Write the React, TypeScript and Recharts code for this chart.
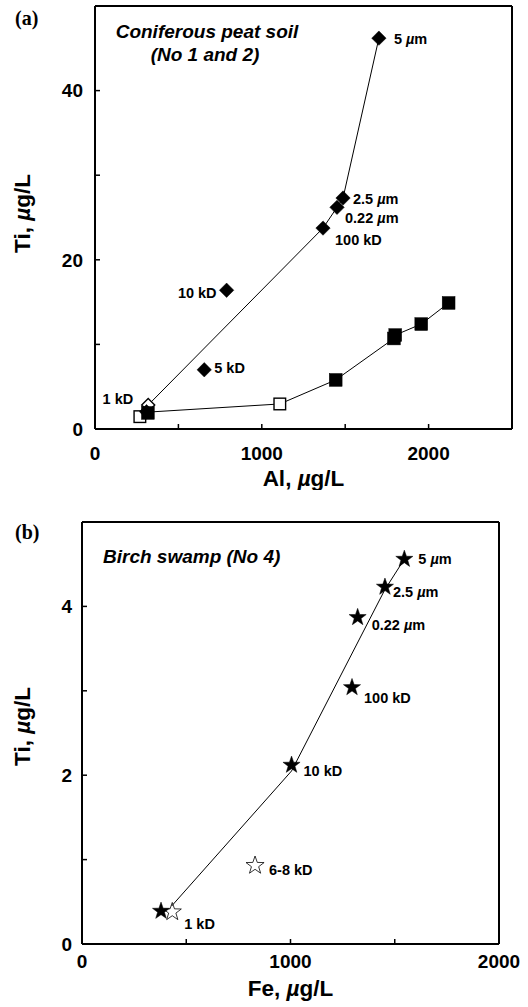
import React from "react";
import { ScatterChart, Scatter, XAxis, YAxis, Label } from "recharts";

// (a) Coniferous peat soil: Ti vs Al
const alFilledDiamond = [1702, 1487, 1451, 1367, 789, 655, 309];
const tiFilledDiamond = [46.2, 27.3, 26.2, 23.75, 16.4, 7.0, 2.05];
const filledDiamondLabels = ["5 µm", "2.5 µm", "0.22 µm", "100 kD", "10 kD", "5 kD", ""];
const alOpenDiamond = [319];
const tiOpenDiamond = [2.84];
const openDiamondLabels = ["1 kD"];
const alDiamondLine = [319, 1367, 1451, 1487, 1702];
const tiDiamondLine = [2.84, 23.75, 26.2, 27.3, 46.2];

const alFilledSquare = [317, 1443, 1792, 1800, 1956, 2120];
const tiFilledSquare = [1.9, 5.8, 10.7, 11.1, 12.4, 14.9];
const alOpenSquare = [269, 1108];
const tiOpenSquare = [1.46, 2.96];
const alSquareLine = [320, 1108, 1443, 1792, 1800, 1956, 2120];
const tiSquareLine = [2.0, 2.96, 5.8, 10.7, 11.1, 12.4, 14.9];

const alTicks = [0, 500, 1000, 1500, 2000, 2500];
const tiTicksA = [0, 10, 20, 30, 40, 50];

// (b) Birch swamp: Ti vs Fe
const feFilledStar = [1546, 1453, 1322, 1295, 1005, 379];
const tiFilledStar = [4.56, 4.23, 3.87, 3.04, 2.12, 0.39];
const filledStarLabels = ["5 µm", "2.5 µm", "0.22 µm", "100 kD", "10 kD", ""];
const feOpenStar = [830, 433];
const tiOpenStar = [0.93, 0.38];
const openStarLabels = ["6-8 kD", "1 kD"];
const feStarLine = [430, 1005, 1453, 1546];
const tiStarLine = [0.45, 2.05, 4.2, 4.56];

const feTicks = [0, 500, 1000, 1500, 2000];
const tiTicksB = [0, 1, 2, 3, 4, 5];

const topTicks = [0, 1, 2, 3, 4, 5, 6];

const FONT = "'Liberation Sans', Arial, Helvetica, sans-serif";

type LabelPos = Record<string, [number, number, ("start" | "end")?]>;

// label offsets from the marker centre
const labelPosA: LabelPos = {
  "5 µm": [15, 6],
  "2.5 µm": [10, 6],
  "0.22 µm": [8, 16],
  "100 kD": [12, 17],
  "10 kD": [-10, 8, "end"],
  "5 kD": [10, 3],
  "1 kD": [-15, -1, "end"],
};
const labelPosB: LabelPos = {
  "5 µm": [14, 5],
  "2.5 µm": [8, 10],
  "0.22 µm": [14, 13],
  "100 kD": [12, 16],
  "10 kD": [12, 11],
  "6-8 kD": [14, 9],
  "1 kD": [12, 17],
};

const zip = (xs: number[], ys: number[], labels?: string[]) =>
  xs.map((x, i) => ({ x, y: ys[i], label: labels ? labels[i] : "" }));

function MuText({ text }: { text: string }) {
  const parts = text.split("µ");
  if (parts.length < 2) return <>{text}</>;
  return (
    <>
      {parts[0]}
      <tspan fontStyle="italic">µ</tspan>
      {parts[1]}
    </>
  );
}

function PointLabel({ cx, cy, text, pos }: { cx: number; cy: number; text?: string; pos: LabelPos }) {
  if (!text || !pos[text]) return null;
  const [dx, dy, anchor] = pos[text];
  return (
    <text
      x={cx + dx}
      y={cy + dy}
      textAnchor={anchor ?? "start"}
      fontFamily={FONT}
      fontWeight="bold"
      fontSize={14.5}
      fill="#000"
    >
      <MuText text={text} />
    </text>
  );
}

const diamondShape = (open: boolean, pos: LabelPos) => (p: any) => {
  const { cx, cy, payload } = p;
  const r = open ? 6.5 : 7.2;
  return (
    <g>
      <path
        d={`M${cx},${cy - r}L${cx + r},${cy}L${cx},${cy + r}L${cx - r},${cy}Z`}
        fill={open ? "#fff" : "#000"}
        stroke="#000"
        strokeWidth={open ? 1.4 : 0.5}
      />
      <PointLabel cx={cx} cy={cy} text={payload?.label} pos={pos} />
    </g>
  );
};

const squareShape = (open: boolean) => (p: any) => {
  const { cx, cy } = p;
  const h = open ? 5.8 : 6.4;
  return (
    <rect
      x={cx - h}
      y={cy - h}
      width={h * 2}
      height={h * 2}
      fill={open ? "#fff" : "#000"}
      stroke="#000"
      strokeWidth={open ? 1.4 : 0.5}
    />
  );
};

const starPath = (cx: number, cy: number, R: number) => {
  const r = R * 0.4;
  let d = "";
  for (let i = 0; i < 10; i++) {
    const a = -Math.PI / 2 + (i * Math.PI) / 5;
    const rad = i % 2 === 0 ? R : r;
    d += `${i === 0 ? "M" : "L"}${cx + rad * Math.cos(a)},${cy + rad * Math.sin(a)}`;
  }
  return d + "Z";
};

const starShape = (open: boolean, pos: LabelPos) => (p: any) => {
  const { cx, cy, payload } = p;
  return (
    <g>
      <path
        d={starPath(cx, cy, open ? 9.5 : 9)}
        fill={open ? "none" : "#000"}
        stroke="#000"
        strokeWidth={open ? 0.8 : 0.5}
      />
      <PointLabel cx={cx} cy={cy} text={payload?.label} pos={pos} />
    </g>
  );
};

const noShape = () => <g />;

const tickStyle = { fontSize: 19, fontWeight: 700, fill: "#000", fontFamily: FONT };
const frame = { stroke: "#000", strokeWidth: 2 };
const tickLine = { stroke: "#000", strokeWidth: 1.5 };
const lineStyle = { stroke: "#000", strokeWidth: 1 };

function XTitle({ viewBox, name, dy }: any) {
  const { x, y, width } = viewBox;
  return (
    <text x={x + width / 2} y={y + dy} textAnchor="middle" fontFamily={FONT} fontWeight="bold" fontSize={22.5} fill="#000">
      {name}, <tspan fontStyle="italic">µ</tspan>g/L
    </text>
  );
}

function YTitle({ viewBox, shift }: any) {
  const { y, height } = viewBox;
  const cx = 30;
  const cy = y + height / 2 + shift;
  return (
    <text
      x={cx}
      y={cy}
      transform={`rotate(-90, ${cx}, ${cy})`}
      textAnchor="middle"
      fontFamily={FONT}
      fontWeight="bold"
      fontSize={22.5}
      fill="#000"
    >
      Ti, <tspan fontStyle="italic">µ</tspan>g/L
    </text>
  );
}

const thousands = (v: number) => (v % 1000 === 0 ? String(v) : "");
const evens = (v: number) => (v % 20 === 0 ? String(v) : "");
const evenInts = (v: number) => (v % 2 === 0 ? String(v) : "");

function PanelA() {
  return (
    <ScatterChart width={528} height={490} margin={{ top: 0, right: 0, bottom: 0, left: 0 }}>
      <XAxis
        type="number"
        dataKey="x"
        domain={[0, 2500]}
        ticks={alTicks}
        interval={0}
        tickFormatter={thousands}
        tick={tickStyle}
        tickSize={-5}
        tickMargin={23}
        axisLine={frame}
        tickLine={tickLine}
        height={61}
        allowDataOverflow
      >
        <Label content={(p: any) => <XTitle viewBox={p.viewBox} name="Al" dy={57} />} />
      </XAxis>
      <XAxis
        xAxisId="top"
        orientation="top"
        type="number"
        domain={[0, 6]}
        ticks={topTicks}
        interval={0}
        tick={false}
        tickSize={-5}
        axisLine={frame}
        tickLine={tickLine}
        height={6}
      />
      <YAxis
        type="number"
        dataKey="y"
        domain={[0, 50]}
        ticks={tiTicksA}
        interval={0}
        tickFormatter={evens}
        tick={tickStyle}
        tickSize={-5}
        tickMargin={17}
        axisLine={frame}
        tickLine={tickLine}
        width={95}
        allowDataOverflow
      >
        <Label content={(p: any) => <YTitle viewBox={p.viewBox} shift={-4} />} />
      </YAxis>
      <YAxis
        yAxisId="right"
        orientation="right"
        type="number"
        domain={[0, 50]}
        ticks={tiTicksA}
        interval={0}
        tick={false}
        tickSize={-5}
        axisLine={frame}
        tickLine={tickLine}
        width={16}
      />
      <Scatter data={zip(alDiamondLine, tiDiamondLine)} line={lineStyle} shape={noShape} isAnimationActive={false} />
      <Scatter data={zip(alSquareLine, tiSquareLine)} line={lineStyle} shape={noShape} isAnimationActive={false} />
      <Scatter data={zip(alOpenSquare, tiOpenSquare)} shape={squareShape(true)} isAnimationActive={false} />
      <Scatter
        data={zip(alOpenDiamond, tiOpenDiamond, openDiamondLabels)}
        shape={diamondShape(true, labelPosA)}
        isAnimationActive={false}
      />
      <Scatter
        data={zip(alFilledDiamond, tiFilledDiamond, filledDiamondLabels)}
        shape={diamondShape(false, labelPosA)}
        isAnimationActive={false}
      />
      <Scatter data={zip(alFilledSquare, tiFilledSquare)} shape={squareShape(false)} isAnimationActive={false} />
    </ScatterChart>
  );
}

function PanelB() {
  return (
    <ScatterChart width={528} height={517} margin={{ top: 0, right: 0, bottom: 0, left: 0 }}>
      <XAxis
        type="number"
        dataKey="x"
        domain={[0, 2000]}
        ticks={feTicks}
        interval={0}
        tickFormatter={thousands}
        tick={tickStyle}
        tickSize={-5}
        tickMargin={16}
        axisLine={frame}
        tickLine={tickLine}
        height={63}
        allowDataOverflow
      >
        <Label content={(p: any) => <XTitle viewBox={p.viewBox} name="Fe" dy={52} />} />
      </XAxis>
      <XAxis
        xAxisId="top"
        orientation="top"
        type="number"
        domain={[0, 6]}
        ticks={topTicks}
        interval={0}
        tick={false}
        tickSize={-5}
        axisLine={frame}
        tickLine={tickLine}
        height={32}
      />
      <YAxis
        type="number"
        dataKey="y"
        domain={[0, 5]}
        ticks={tiTicksB}
        interval={0}
        tickFormatter={evenInts}
        tick={tickStyle}
        tickSize={-5}
        tickMargin={15}
        axisLine={frame}
        tickLine={tickLine}
        width={82}
        allowDataOverflow
      >
        <Label content={(p: any) => <YTitle viewBox={p.viewBox} shift={-6.5} />} />
      </YAxis>
      <YAxis
        yAxisId="right"
        orientation="right"
        type="number"
        domain={[0, 5]}
        ticks={tiTicksB}
        interval={0}
        tick={false}
        tickSize={-5}
        axisLine={frame}
        tickLine={tickLine}
        width={29}
      />
      <Scatter data={zip(feStarLine, tiStarLine)} line={lineStyle} shape={noShape} isAnimationActive={false} />
      <Scatter
        data={zip(feFilledStar, tiFilledStar, filledStarLabels)}
        shape={starShape(false, labelPosB)}
        isAnimationActive={false}
      />
      <Scatter
        data={zip(feOpenStar, tiOpenStar, openStarLabels)}
        shape={starShape(true, labelPosB)}
        isAnimationActive={false}
      />
    </ScatterChart>
  );
}

export default function App() {
  return (
    <div style={{ position: "absolute", left: 0, top: 0, width: 528, height: 1007, background: "#fff" }}>
      <div style={{ position: "absolute", left: 0, top: 0 }}>
        <PanelA />
      </div>
      <div style={{ position: "absolute", left: 0, top: 490 }}>
        <PanelB />
      </div>
      <svg width={528} height={1007} style={{ position: "absolute", left: 0, top: 0, pointerEvents: "none" }}>
        <g fontFamily="'Liberation Serif', 'Times New Roman', serif" fontWeight="bold" fontSize={20} fill="#000">
          <text x={15} y={25}>(a)</text>
          <text x={15} y={539}>(b)</text>
        </g>
        <g fontFamily={FONT} fontWeight="bold" fontStyle="italic" fontSize={19} fill="#000">
          <text x={207} y={38} textAnchor="middle">Coniferous peat soil</text>
          <text x={205} y={61} textAnchor="middle">(No 1 and 2)</text>
          <text x={103} y={563}>Birch swamp (No 4)</text>
        </g>
      </svg>
    </div>
  );
}
